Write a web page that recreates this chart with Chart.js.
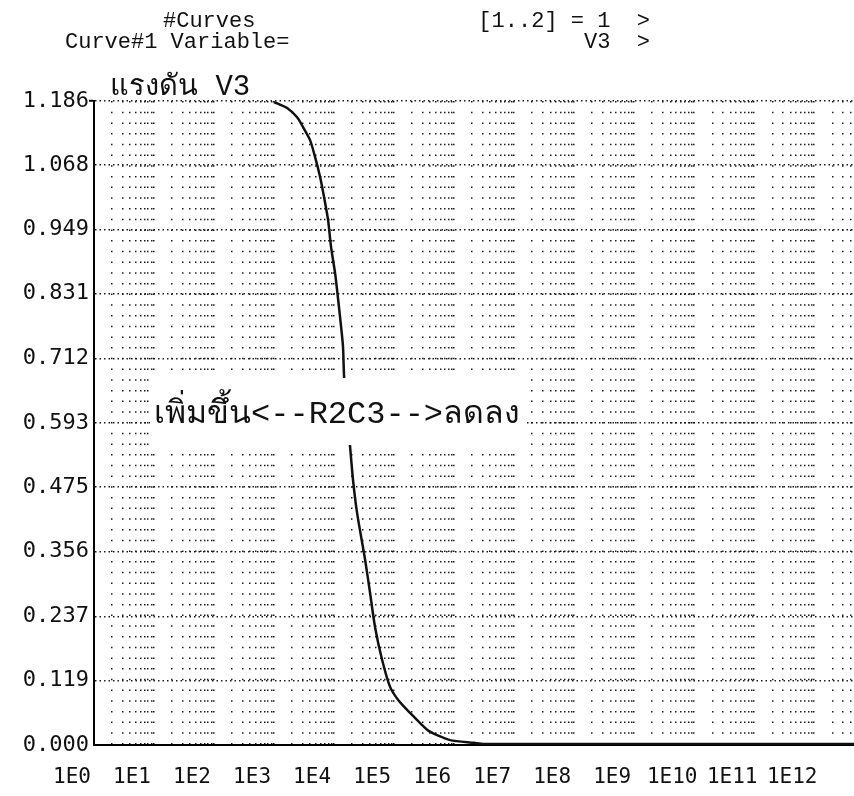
<!DOCTYPE html>
<html>
<head>
<meta charset="utf-8">
<script src="https://cdn.jsdelivr.net/npm/chart.js@4.4.0/dist/chart.umd.min.js"></script>
<style>
  html, body { margin: 0; padding: 0; background: #fff; }
  #wrap { width: 854px; height: 796px; position: relative; }
</style>
</head>
<body>
<div id="wrap"><canvas id="plot" width="854" height="796"></canvas></div>
<script>
// sweep points (Hz) and the node voltage V3
const freq = [1.0e3, 1.65e3, 2.42e3, 3.04e3, 3.98e3, 4.82e3, 5.85e3, 6.81e3, 7.94e3, 8.91e3,
  1.04e4, 1.17e4, 1.31e4, 1.41e4, 1.47e4, 1.85e4, 2.07e4, 2.42e4, 3.29e4, 3.98e4,
  4.82e4, 6.31e4, 8.57e4, 1.17e5, 1.85e5, 3.55e5, 5.21e5, 8.57e5, 2.15e6, 3.16e6,
  1e8, 1e10, 4.6e12];
const v3 = [1.184, 1.173, 1.156, 1.138, 1.114, 1.083, 1.046, 1.009, 0.967, 0.917,
  0.869, 0.820, 0.770, 0.733, 0.678, 0.549, 0.488, 0.427, 0.341, 0.280,
  0.217, 0.157, 0.107, 0.083, 0.059, 0.028, 0.018, 0.009, 0.004, 0.002,
  0.002, 0.002, 0.002];

const xTickLabels = ['1E0', '1E1', '1E2', '1E3', '1E4', '1E5', '1E6', '1E7', '1E8', '1E9', '1E10', '1E11', '1E12'];
const yTickLabels = ['0.000', '0.119', '0.237', '0.356', '0.475', '0.593', '0.712', '0.831', '0.949', '1.068', '1.186'];
const xMax = 4.6e12;

const headerLeft = ['#Curves', 'Curve#1 Variable='];
const headerRight = ['[1..2] = 1  >', 'V3  >'];
const plotTitle = 'แรงดัน V3';
const noteText = 'เพิ่มขึ้น<--R2C3-->ลดลง';
const noteAt = [1e1, 0.593]; // where the note sits (x, V3)

const monoTick = "'DejaVu Sans Mono', monospace";
const monoText = "'Liberation Mono', monospace";

// screen text of the old plotting program, written over the graph
const printout = {
    id: 'printout',
    afterDraw(chart) {
	const ctx = chart.ctx;
	const xs = chart.scales.x;
	const ys = chart.scales.y;
	ctx.save();
	ctx.fillStyle = '#111';
	ctx.textBaseline = 'alphabetic';
	ctx.font = "22px " + monoText;
	ctx.textAlign = 'left';
	ctx.fillText(headerLeft[0], 163, 27);
	ctx.fillText(headerLeft[1], 65, 48);
	ctx.textAlign = 'right';
	ctx.fillText(headerRight[0], 650, 27);
	ctx.fillText(headerRight[1], 650, 48);

	ctx.textAlign = 'left';
	ctx.font = "29px " + monoText;
	ctx.fillText(plotTitle, 110, 95);

	// the note blanks out whatever was under it
	const fs = 32;
	ctx.font = fs + "px " + monoText;
	const nx = xs.getPixelForValue(noteAt[0]);
	const ny = ys.getPixelForValue(noteAt[1]);
	const w = ctx.measureText(noteText).width;
	ctx.fillStyle = '#fff';
	ctx.fillRect(nx - 4, ny - 45, w + 8, 67);
	ctx.fillStyle = '#111';
	ctx.fillText(noteText, nx, ny);
	ctx.restore();
    }
};

new Chart(document.getElementById('plot'), {
    type: 'line',
    data: {
	datasets: [{
	    data: freq.map((f, i) => ({x: f, y: v3[i]})),
	    borderColor: '#111',
	    borderWidth: 2.5,
	    pointRadius: 0,
	    tension: 0.25,
	    fill: false
	}]
    },
    options: {
	responsive: false,
	animation: false,
	devicePixelRatio: 1,
	layout: { padding: { top: 101, left: 0, right: 0, bottom: 0 } },
	plugins: { legend: { display: false }, tooltip: { enabled: false } },
	scales: {
	    x: {
		type: 'logarithmic',
		min: 1,
		max: xMax,
		afterBuildTicks(scale) {
		    const t = [];
		    for (let e = 0; e < xTickLabels.length; e++) {
			for (let s = 1; s <= 9; s++) {
			    const v = s * Math.pow(10, e);
			    if (v <= xMax) t.push({value: v, major: s === 1, exp: e});
			}
		    }
		    scale.ticks = t;
		},
		afterFit(scale) {
		    scale.height = 51;
		    scale.paddingLeft = 0;
		    scale.paddingRight = 0;
		},
		grid: { color: '#1e1e1e', lineWidth: 1.5, drawTicks: false },
		border: { display: true, color: '#000', width: 2, dash: [1.5, 9.2] },
		ticks: {
		    autoSkip: false,
		    maxRotation: 0,
		    padding: 20,
		    labelOffset: -22,
		    color: '#111',
		    font: { family: monoTick, size: 21 },
		    callback(value, index, ticks) {
			const t = ticks[index];
			return t.major ? xTickLabels[t.exp] : '';
		    }
		}
	    },
	    y: {
		type: 'linear',
		min: 0,
		max: parseFloat(yTickLabels[yTickLabels.length - 1]),
		afterBuildTicks(scale) {
		    scale.ticks = yTickLabels.map(l => ({value: parseFloat(l)}));
		},
		afterFit(scale) { scale.width = 94; },
		grid: {
		    color: '#1e1e1e',
		    lineWidth: 1.5,
		    drawTicks: true,
		    tickLength: 5,
		    tickWidth: 2,
		    tickBorderDash: [],
		    tickColor: (c) => c.index === yTickLabels.length - 1 ? '#000' : 'rgba(0,0,0,0)'
		},
		border: { display: true, color: '#000', width: 2, dash: [1.5, 3] },
		ticks: {
		    padding: 0,
		    color: '#111',
		    font: { family: monoTick, size: 22 },
		    callback(value, index) { return yTickLabels[index]; }
		}
	    }
	}
    },
    plugins: [printout]
});
</script>
</body>
</html>
